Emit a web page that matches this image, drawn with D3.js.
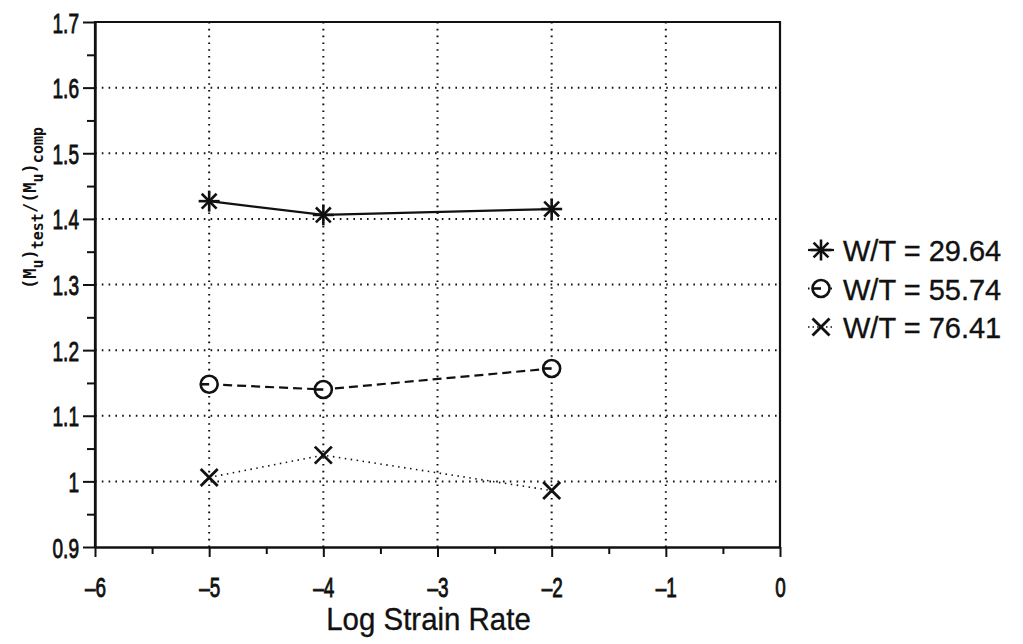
<!DOCTYPE html>
<html>
<head>
<meta charset="utf-8">
<script src="https://cdn.jsdelivr.net/npm/d3@7/dist/d3.min.js"></script>
<style>
  html, body { margin: 0; padding: 0; background: #fff; }
  svg { display: block; }
  .lbl { font-family: 'Liberation Sans', Arial, sans-serif; fill: #111; stroke: #111; stroke-width: 0.9px; }
</style>
</head>
<body>
<svg id="chart" width="1023" height="644"></svg>
<script>
// Ultimate moment ratio vs. log strain rate for three width/thickness ratios
const strainRates = [-5, -4, -2];
const seriesNames = ["W/T = 29.64", "W/T = 55.74", "W/T = 76.41"];
const ratioWT2964 = [1.427, 1.406, 1.415];
const ratioWT5574 = [1.148, 1.140, 1.172];
const ratioWT7641 = [1.006, 1.040, 0.986];
const xTicks = [-6, -5, -4, -3, -2, -1, 0];
const yTicks = [0.9, 1, 1.1, 1.2, 1.3, 1.4, 1.5, 1.6, 1.7];

const series = [
  { name: seriesNames[0], values: ratioWT2964, marker: "star",   dash: null,  width: 2.2 },
  { name: seriesNames[1], values: ratioWT5574, marker: "circle", dash: "9,5", width: 2.2 },
  { name: seriesNames[2], values: ratioWT7641, marker: "cross",  dash: "1.5,4.5", width: 1.6 }
];

const svg = d3.select("#chart");
const ink = "#111";
const plotL = 95, plotR = 780, plotT = 22, plotB = 547;

const x = d3.scaleLinear().domain([-6, 0]).range([plotL, plotR]);
const y = d3.scaleLinear().domain([0.9, 1.7]).range([plotB, plotT]);

// narrow plotter-style lettering: text squeezed horizontally about its anchor
function narrowText(parent, px, py, str, size, sx, anchor) {
  return parent.append("text").attr("class", "lbl")
    .attr("transform", `translate(${px},${py}) scale(${sx},1)`)
    .attr("text-anchor", anchor || "start")
    .style("font-size", size + "px")
    .text(str);
}

// dotted grid
const grid = svg.append("g");
grid.selectAll("line.gx").data(xTicks.filter(d => d > -6 && d < 0)).join("line")
  .attr("x1", d => x(d)).attr("x2", d => x(d)).attr("y1", plotT).attr("y2", plotB)
  .attr("stroke", ink).attr("stroke-width", 2).attr("stroke-dasharray", "1.6,5.2");
grid.selectAll("line.gy").data(yTicks.filter(d => d > 0.9 && d < 1.7)).join("line")
  .attr("x1", plotL).attr("x2", plotR).attr("y1", d => y(d)).attr("y2", d => y(d))
  .attr("stroke", ink).attr("stroke-width", 2).attr("stroke-dasharray", "1.6,5.2");

// frame
svg.append("path")
  .attr("d", `M${plotL},${plotB}V${plotT}H${plotR}V${plotB}`)
  .attr("fill", "none").attr("stroke", ink).attr("stroke-width", 2.2);

// x axis
const xAxis = d3.axisBottom(x)
  .tickValues(d3.range(-6, 0.01, 0.5))
  .tickSize(0).tickFormat("");
const gx = svg.append("g").attr("transform", `translate(0,${plotB})`).call(xAxis);
gx.select(".domain").attr("stroke", ink).attr("stroke-width", 2.4);
gx.selectAll(".tick line")
  .attr("y2", d => Number.isInteger(d) ? 10 : 7)
  .attr("stroke", ink).attr("stroke-width", 2);
gx.selectAll(".tick").filter(d => Number.isInteger(d))
  .each(function (d) {
    narrowText(d3.select(this), 0, 50, d === 0 ? "0" : "\u2013" + Math.abs(d), 27, 0.7, "middle");
  });

// y axis
const yAxis = d3.axisLeft(y)
  .tickValues(d3.range(0.9, 1.7001, 0.05).map(v => +v.toFixed(2)))
  .tickSize(0).tickFormat("");
const gy = svg.append("g").attr("transform", `translate(${plotL},0)`).call(yAxis);
gy.select(".domain").attr("stroke", ink).attr("stroke-width", 2.4);
gy.selectAll(".tick line")
  .attr("x2", d => Math.abs(d * 10 - Math.round(d * 10)) < 1e-6 ? -12 : -8)
  .attr("stroke", ink).attr("stroke-width", 2);
gy.selectAll(".tick").filter(d => yTicks.includes(d))
  .each(function (d) {
    narrowText(d3.select(this), -16, 10, d === 1 ? "1" : d3.format(".1f")(d), 28, 0.68, "end");
  });

// axis titles
narrowText(svg, (plotL + plotR) / 2 - 9, 630, "Log Strain Rate", 31, 0.95, "middle")
  .style("stroke-width", "0.35px");

const yt = svg.append("text")
  .attr("transform", "translate(36,208) rotate(-90)")
  .attr("text-anchor", "middle")
  .style("font-family", "'DejaVu Sans Mono', monospace").style("font-weight", "bold")
  .style("font-size", "17px").attr("fill", ink);
yt.append("tspan").text("(M");
yt.append("tspan").attr("dy", 7).style("font-size", "15px").text("u");
yt.append("tspan").attr("dy", -7).text(")");
yt.append("tspan").attr("dy", 7).style("font-size", "15px").text("test");
yt.append("tspan").attr("dy", -7).text("/(M");
yt.append("tspan").attr("dy", 7).style("font-size", "15px").text("u");
yt.append("tspan").attr("dy", -7).text(")");
yt.append("tspan").attr("dy", 7).style("font-size", "15px").text("comp");

// marker drawing
function drawMarker(g, type) {
  if (type === "star") {
    const r = 10.5;
    [0, 45, 90, 135].forEach(a => {
      const rad = a * Math.PI / 180;
      g.append("line")
        .attr("x1", -r * Math.cos(rad)).attr("y1", -r * Math.sin(rad))
        .attr("x2", r * Math.cos(rad)).attr("y2", r * Math.sin(rad))
        .attr("stroke", ink).attr("stroke-width", 2.6);
    });
  } else if (type === "circle") {
    g.append("circle").attr("r", 8.5).attr("fill", "#fff").attr("stroke", ink).attr("stroke-width", 2.6);
    g.append("line").attr("x1", -8.5).attr("x2", 0).attr("stroke", ink).attr("stroke-width", 2.6);
  } else {
    const r = 8.5;
    g.append("line").attr("x1", -r).attr("y1", -r).attr("x2", r).attr("y2", r).attr("stroke", ink).attr("stroke-width", 2.8);
    g.append("line").attr("x1", -r).attr("y1", r).attr("x2", r).attr("y2", -r).attr("stroke", ink).attr("stroke-width", 2.8);
  }
}

const line = d3.line().x(d => x(d[0])).y(d => y(d[1]));
series.forEach(s => {
  const pts = strainRates.map((r, i) => [r, s.values[i]]);
  svg.append("path").datum(pts).attr("d", line)
    .attr("fill", "none").attr("stroke", ink).attr("stroke-width", s.width)
    .attr("stroke-dasharray", s.dash);
  svg.append("g").selectAll("g").data(pts).join("g")
    .attr("transform", d => `translate(${x(d[0])},${y(d[1])})`)
    .each(function () { drawMarker(d3.select(this), s.marker); });
});

// legend
const legend = svg.append("g").attr("transform", "translate(821,250)");
series.forEach((s, i) => {
  const row = legend.append("g").attr("transform", `translate(0,${i * 38.5})`);
  row.append("line").attr("x1", -13).attr("x2", 13)
    .attr("stroke", ink).attr("stroke-width", s.width).attr("stroke-dasharray", s.dash ? "1.5,3" : null);
  drawMarker(row.append("g"), s.marker);
  narrowText(row, 22, 11, s.name, 29, 1.0, "start").style("stroke-width", "0.35px");
});
</script>
</body>
</html>
